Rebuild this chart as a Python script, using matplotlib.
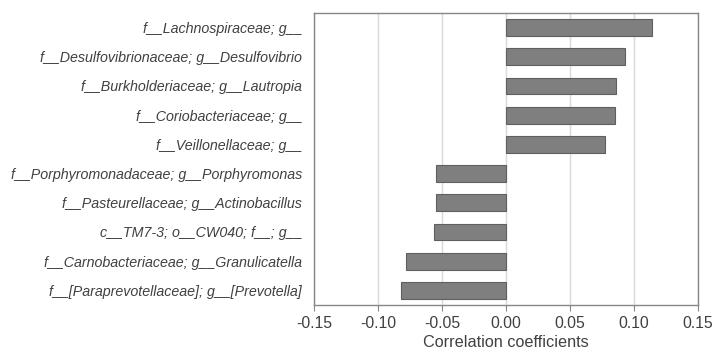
import matplotlib
matplotlib.use("Agg")
import matplotlib.pyplot as plt
import numpy as np

plt.rcParams["font.family"] = ["Liberation Sans", "DejaVu Sans"]

# taxa, top to bottom as in the chart
taxa = [
    "f__Lachnospiraceae; g__",
    "f__Desulfovibrionaceae; g__Desulfovibrio",
    "f__Burkholderiaceae; g__Lautropia",
    "f__Coriobacteriaceae; g__",
    "f__Veillonellaceae; g__",
    "f__Porphyromonadaceae; g__Porphyromonas",
    "f__Pasteurellaceae; g__Actinobacillus",
    "c__TM7-3; o__CW040; f__; g__",
    "f__Carnobacteriaceae; g__Granulicatella",
    "f__[Paraprevotellaceae]; g__[Prevotella]",
]
coefs = [0.114, 0.093, 0.086, 0.085, 0.077,
         -0.055, -0.055, -0.056, -0.078, -0.082]
xticks = [-0.15, -0.10, -0.05, 0.00, 0.05, 0.10, 0.15]

fig = plt.figure(figsize=(7.13, 3.52), dpi=100)
ax = fig.add_axes([314 / 713, 1 - 305 / 352, (698 - 314) / 713, (305 - 13) / 352])

ypos = np.arange(len(taxa))[::-1]
ax.barh(ypos, coefs, height=0.58, color="#7f7f7f", edgecolor="#5f5f5f",
        linewidth=0.8, zorder=3)

ax.set_xlim(-0.15, 0.15)
ax.set_ylim(-0.5, len(taxa) - 0.5)
ax.set_xticks(xticks)
ax.set_xticklabels([f"{t:.2f}" for t in xticks], fontsize=11.3, color="#404040")
ax.set_yticks(ypos)
ax.set_yticklabels(taxa, fontsize=10.3, style="italic", color="#404040")
ax.tick_params(axis="y", length=0, pad=8.5)
ax.tick_params(axis="x", length=4, color="#868686", pad=4)
ax.grid(axis="x", color="#d9d9d9", linewidth=1, zorder=0)
for s in ax.spines.values():
    s.set_color("#868686")
    s.set_linewidth(1)
ax.set_xlabel("Correlation coefficients", fontsize=11.7, color="#404040", labelpad=3)

fig.savefig("out.png", dpi=100)
